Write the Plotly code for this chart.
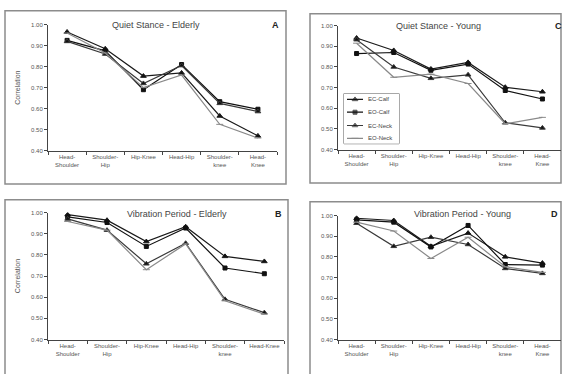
import plotly.graph_objects as go

W, H = 563, 374

series_names = ["EC-Calf", "EO-Calf", "EC-Neck", "EO-Neck"]

cats_std = ["Head-<br>Shoulder", "Shoulder-<br>Hip", "Hip-Knee", "Head-Hip", "Shoulder-<br>knee", "Head-<br>Knee"]
cats_b = ["Head-<br>Shoulder", "Shoulder-<br>Hip", "Hip-Knee", "Head-Hip", "Shoulder-<br>knee", "Head-Knee"]

# Panel A: Quiet Stance - Elderly
qs_elderly_ec_calf = [0.965, 0.885, 0.755, 0.770, 0.565, 0.470]
qs_elderly_eo_calf = [0.925, 0.875, 0.690, 0.810, 0.633, 0.597]
qs_elderly_ec_neck = [0.920, 0.860, 0.720, 0.805, 0.625, 0.586]
qs_elderly_eo_neck = [0.960, 0.865, 0.700, 0.760, 0.525, 0.460]

# Panel C: Quiet Stance - Young
qs_young_ec_calf = [0.940, 0.880, 0.790, 0.822, 0.702, 0.680]
qs_young_eo_calf = [0.865, 0.870, 0.784, 0.814, 0.686, 0.645]
qs_young_ec_neck = [0.932, 0.800, 0.745, 0.762, 0.530, 0.505]
qs_young_eo_neck = [0.915, 0.750, 0.765, 0.720, 0.525, 0.556]

# Panel B: Vibration Period - Elderly
vp_elderly_ec_calf = [0.990, 0.964, 0.863, 0.933, 0.793, 0.769]
vp_elderly_eo_calf = [0.980, 0.953, 0.840, 0.927, 0.738, 0.711]
vp_elderly_ec_neck = [0.970, 0.917, 0.758, 0.855, 0.590, 0.527]
vp_elderly_eo_neck = [0.958, 0.917, 0.730, 0.852, 0.583, 0.520]

# Panel D: Vibration Period - Young
vp_young_ec_calf = [0.987, 0.976, 0.851, 0.915, 0.800, 0.770]
vp_young_eo_calf = [0.979, 0.968, 0.848, 0.952, 0.763, 0.760]
vp_young_ec_neck = [0.963, 0.851, 0.895, 0.860, 0.744, 0.720]
vp_young_eo_neck = [0.968, 0.925, 0.792, 0.895, 0.752, 0.725]

panel_titles = ["Quiet Stance - Elderly", "Quiet Stance - Young", "Vibration Period - Elderly", "Vibration Period - Young"]
panel_letters = ["A", "C", "B", "D"]
y_ticks = [0.40, 0.50, 0.60, 0.70, 0.80, 0.90, 1.00]

panels = [
    (cats_std, [qs_elderly_ec_calf, qs_elderly_eo_calf, qs_elderly_ec_neck, qs_elderly_eo_neck]),
    (cats_std, [qs_young_ec_calf, qs_young_eo_calf, qs_young_ec_neck, qs_young_eo_neck]),
    (cats_b, [vp_elderly_ec_calf, vp_elderly_eo_calf, vp_elderly_ec_neck, vp_elderly_eo_neck]),
    (cats_std, [vp_young_ec_calf, vp_young_eo_calf, vp_young_ec_neck, vp_young_eo_neck]),
]

# pixel geometry: (x0, x1, ytop, ybottom)
geo = [
    (48, 277, 22, 150),
    (338, 561, 23, 149),
    (48, 284, 213, 342),
    (338, 561, 216, 342),
]
borders = [(5, 286, 8, 184), (310, 561, 11, 183), (5, 288, 200, 390), (310, 561, 202, 390)]
title_pos = [(156, 22), (438, 23), (177, 214), (462, 214)]
letter_pos = [(275, 22), (558, 23), (278, 214), (554, 214)]

line_colors = ["#1a1a1a", "#111111", "#3a3a3a", "#8a8a8a"]
marker_symbols = ["triangle-up", "square", "triangle-up", "line-ew"]
marker_sizes = [5, 4, 5, 5]

FONT = "Liberation Sans, Arial, sans-serif"
TXT = "#555555"

fig = go.Figure()
layout = dict(
    width=W, height=H, margin=dict(l=0, r=0, t=0, b=0),
    paper_bgcolor="white", plot_bgcolor="white",
    font=dict(family=FONT, size=6, color=TXT),
    showlegend=False,
)
annotations = []
shapes = []

for i, ((cats, data), (x0, x1, yt, yb)) in enumerate(zip(panels, geo)):
    n = "" if i == 0 else str(i + 1)
    xa, ya = "x" + n, "y" + n
    for s, vals in enumerate(data):
        fig.add_trace(go.Scatter(
            x=cats, y=vals, xaxis=xa, yaxis=ya, mode="lines+markers",
            name=series_names[s], showlegend=False,
            line=dict(color=line_colors[s], width=1.2),
            marker=dict(symbol=marker_symbols[s], size=marker_sizes[s], color="#111111",
                        line=dict(color=line_colors[s], width=1)),
        ))
    layout["xaxis" + n] = dict(
        domain=[x0 / W, x1 / W], anchor=ya, type="category",
        categoryorder="array", categoryarray=cats, range=[-0.5, 5.5],
        showline=True, linecolor="#444444", linewidth=1, tickangle=0,
        ticks="outside", tickson="boundaries", ticklen=3, tickcolor="#444444",
        tickfont=dict(size=6, color=TXT), showgrid=False, zeroline=False, fixedrange=True,
    )
    layout["yaxis" + n] = dict(
        domain=[1 - yb / H, 1 - yt / H], anchor=xa, range=[0.40, 1.00],
        tickvals=y_ticks, tickformat=".2f",
        showline=True, linecolor="#444444", linewidth=1,
        ticks="outside", ticklen=3, tickcolor="#444444",
        tickfont=dict(size=6, color=TXT), showgrid=False, zeroline=False,
    )
    if i in (0, 2):
        layout["yaxis" + n]["title"] = dict(text="Correlation", font=dict(size=7, color=TXT), standoff=9)
    tx, ty = title_pos[i]
    annotations.append(dict(
        text=panel_titles[i], xref="paper", yref="paper",
        x=tx / W, y=1 - ty / H, xanchor="center", yanchor="middle", showarrow=False,
        font=dict(size=9, color="#444444"),
    ))
    lx, ly = letter_pos[i]
    annotations.append(dict(
        text="<b>%s</b>" % panel_letters[i], xref="paper", yref="paper",
        x=lx / W, y=1 - ly / H, xanchor="center", yanchor="middle", showarrow=False,
        font=dict(size=9, color="#222222"),
    ))
    bx0, bx1, by0, by1 = borders[i]
    shapes.append(dict(
        type="rect", xref="paper", yref="paper",
        x0=bx0 / W, x1=bx1 / W, y0=1 - by1 / H, y1=1 - by0 / H,
        line=dict(color="#8c8c8c", width=1.5), layer="below",
    ))

# Compact legend (inside panel C) drawn on a helper axis in pixel units
leg_box = (344, 399, 92, 143)
leg_rows = [98, 111, 124.5, 137.5]
leg_line = (347, 355, 363)
leg_text_x = 366
layout["xaxis5"] = dict(domain=[leg_box[0] / W, leg_box[1] / W], range=[leg_box[0], leg_box[1]],
                        anchor="y5", visible=False, fixedrange=True)
layout["yaxis5"] = dict(domain=[1 - leg_box[3] / H, 1 - leg_box[2] / H], range=[leg_box[3], leg_box[2]],
                        anchor="x5", visible=False, fixedrange=True)
shapes.append(dict(type="rect", xref="paper", yref="paper",
                   x0=leg_box[0] / W, x1=leg_box[1] / W, y0=1 - leg_box[3] / H, y1=1 - leg_box[2] / H,
                   line=dict(color="#555555", width=1), fillcolor="white", layer="below"))
for s, name in enumerate(series_names):
    fig.add_trace(go.Scatter(
        x=list(leg_line), y=[leg_rows[s]] * 3, xaxis="x5", yaxis="y5",
        mode="lines+markers", showlegend=False, hoverinfo="skip",
        line=dict(color=line_colors[s], width=1.2),
        marker=dict(symbol=marker_symbols[s], size=[0, marker_sizes[s], 0], color="#111111",
                    line=dict(color=line_colors[s], width=1)),
    ))
    annotations.append(dict(
        text=name, xref="x5", yref="y5", x=leg_text_x, y=leg_rows[s],
        xanchor="left", yanchor="middle", showarrow=False,
        font=dict(size=6, color="#444444"),
    ))

layout["annotations"] = annotations
layout["shapes"] = shapes
fig.update_layout(**layout)
fig.write_html("out.html")
